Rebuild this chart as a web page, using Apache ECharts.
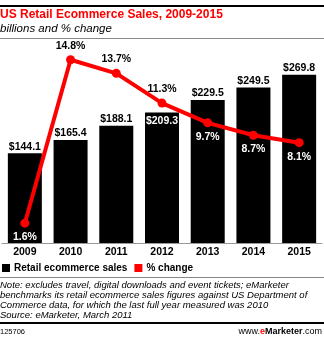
<!DOCTYPE html>
<html><head><meta charset="utf-8">
<script src="https://cdn.jsdelivr.net/npm/echarts@6/dist/echarts.min.js"></script>
<style>html,body{margin:0;padding:0;background:#fff}#c{width:324px;height:341px}</style>
</head><body><div id="c"></div>
<script>
const years = ['2009','2010','2011','2012','2013','2014','2015'];
const sales = [144.1, 165.4, 188.1, 209.3, 229.5, 249.5, 269.8];
const pctChange = [1.6, 14.8, 13.7, 11.3, 9.7, 8.7, 8.1];
const seriesNames = ['Retail ecommerce sales', '% change'];
const noteLines = [
  'Note: excludes travel, digital downloads and event tickets; eMarketer',
  'benchmarks its retail ecommerce sales figures against US Department of',
  'Commerce data, for which the last full year measured was 2010',
  'Source: eMarketer, March 2011'
];

const FONT = '"Liberation Sans", Arial, sans-serif';
const pctBelow = [0, 4, 5, 6];   // label placement for line points that fall inside bars
const salesInside = [3];         // bar label placed inside the bar

const chart = echarts.init(document.getElementById('c'), null, {renderer: 'canvas'});
chart.setOption({
  animation: false,
  backgroundColor: '#fff',
  textStyle: {fontFamily: FONT},
  grid: {left: 2, right: 2, top: 56, bottom: 98, containLabel: false},
  legend: {
    left: 2, top: 263, padding: 0, itemWidth: 8, itemHeight: 8, itemGap: 7,
    icon: 'rect',
    textStyle: {fontFamily: FONT, fontWeight: 'bold', fontSize: 10, color: '#000', padding: [0,0,0,-1]},
    data: seriesNames
  },
  xAxis: {
    type: 'category', data: years,
    axisLine: {lineStyle: {color: '#999', width: 1}},
    axisTick: {show: false},
    axisLabel: {fontFamily: FONT, fontWeight: 'bold', fontSize: 10.5, color: '#000', margin: 4}
  },
  yAxis: [
    {type: 'value', min: 0, max: 300, show: false, splitLine: {show: false}},
    {type: 'value', min: 0, max: 15.1, show: false, splitLine: {show: false}}
  ],
  series: [
    {
      name: seriesNames[0], type: 'bar', barWidth: 34, yAxisIndex: 0,
      itemStyle: {color: '#000'},
      data: sales.map((v, i) => salesInside.includes(i)
        ? {value: v, label: {position: 'insideTop', color: '#fff', distance: 3}}
        : v),
      label: {
        show: true, position: 'top', distance: 1,
        fontFamily: FONT, fontWeight: 'bold', fontSize: 10.5, color: '#000',
        formatter: p => '$' + p.value.toFixed(1)
      },
      z: 2
    },
    {
      name: seriesNames[1], type: 'line', yAxisIndex: 1,
      itemStyle: {color: '#ff0000'},
      lineStyle: {color: '#ff0000', width: 4},
      symbol: 'circle', symbolSize: 9,
      data: pctChange.map((v, i) => pctBelow.includes(i)
        ? {value: v, label: {position: 'bottom', color: '#fff'}}
        : v),
      label: {
        show: true, position: 'top', distance: 4,
        fontFamily: FONT, fontWeight: 'bold', fontSize: 10.5, color: '#000',
        formatter: p => p.value.toFixed(1) + '%'
      },
      z: 3
    }
  ],
  graphic: [
    {type: 'rect', shape: {x: 0, y: 5, width: 324, height: 2}, style: {fill: '#000'}},
    {type: 'text', left: 0, top: 9, style: {text: 'US Retail Ecommerce Sales, 2009-2015', font: 'bold 12px ' + FONT, fill: '#ff0000'}},
    {type: 'text', left: 0, top: 23, style: {text: 'billions and % change', font: 'italic 11.5px ' + FONT, fill: '#000'}},
    {type: 'rect', shape: {x: 0, y: 38, width: 324, height: 1}, style: {fill: '#888'}},
    {type: 'rect', shape: {x: 0, y: 277, width: 324, height: 1}, style: {fill: '#888'}},
    {type: 'text', left: 0, top: 280, style: {text: noteLines.join('\n'), font: 'italic 9.5px ' + FONT, lineHeight: 10, fill: '#000'}},
    {type: 'rect', shape: {x: 0, y: 322, width: 324, height: 2}, style: {fill: '#000'}},
    {type: 'text', left: 0, top: 328, style: {text: '125706', font: '7.5px ' + FONT, fill: '#000'}},
    {type: 'text', right: 2, top: 327, style: {
      text: '{a|www.}{e|e}{b|Marketer}{a|.com}',
      rich: {
        a: {font: '9px ' + FONT, fill: '#000'},
        e: {font: 'bold 9px ' + FONT, fill: '#ff0000'},
        b: {font: 'bold 9px ' + FONT, fill: '#000'}
      }
    }}
  ]
});
</script></body></html>
